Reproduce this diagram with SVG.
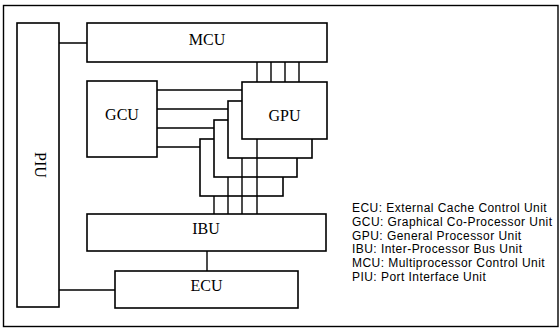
<svg xmlns="http://www.w3.org/2000/svg" width="560" height="329" viewBox="0 0 560 329">
<style>
.box{fill:#fff;stroke:#000;stroke-width:1.6}
.ln{fill:none;stroke:#000;stroke-width:1.4}
.lbl{font-family:"Liberation Serif","Times New Roman",serif;font-size:16px;text-anchor:middle;fill:#000}
.leg{font-family:"Liberation Sans",Arial,sans-serif;font-size:12px;letter-spacing:0.45px;fill:#000}
</style>
<rect x="0" y="0" width="560" height="329" fill="#fff"/>
<rect x="3.5" y="5.5" width="554.5" height="321" fill="none" stroke="#000" stroke-width="1.4"/>
<g id="connectors">
<path class="ln" d="M59 43H87 M59 290H115 M207 251V271"/>
<path class="ln" d="M157 90H242 M157 109H228 M157 128H214 M157 147H200"/>
<path class="ln" d="M257 62V82 M271 62V82 M285 62V82 M299 62V82"/>
</g>
<g id="PIU"><rect class="box" x="17" y="23" width="42" height="284"/><text class="lbl" transform="translate(35 165) rotate(90)">PIU</text></g>
<g id="MCU"><rect class="box" x="87" y="23" width="240" height="39"/><text class="lbl" x="207" y="45">MCU</text></g>
<g id="GCU"><rect class="box" x="87" y="81" width="70" height="76"/><text class="lbl" x="122" y="120">GCU</text></g>
<g id="GPU3"><rect class="box" x="200" y="139" width="83" height="57"/></g>
<g id="GPU2"><rect class="box" x="214" y="120" width="83" height="57"/></g>
<g id="GPU1"><rect class="box" x="228" y="101" width="84" height="57"/></g>
<g id="GPU"><rect class="box" x="242" y="82" width="85" height="57"/><text class="lbl" x="284.5" y="121">GPU</text></g>
<g id="connectors-down">
<path class="ln" d="M214 196V214 M228 177V214 M242 158V214 M257 139V214"/>
</g>
<g id="IBU"><rect class="box" x="87" y="214" width="239" height="37"/><text class="lbl" x="206" y="234">IBU</text></g>
<g id="ECU"><rect class="box" x="115" y="271" width="183" height="37"/><text class="lbl" x="206.5" y="291">ECU</text></g>
<g id="legend">
<text class="leg" x="352" y="212">ECU: External Cache Control Unit</text>
<text class="leg" x="352" y="225.8">GCU: Graphical Co-Processor Unit</text>
<text class="leg" x="352" y="239.6">GPU: General Processor Unit</text>
<text class="leg" x="352" y="253.4">IBU: Inter-Processor Bus Unit</text>
<text class="leg" x="352" y="267.2">MCU: Multiprocessor Control Unit</text>
<text class="leg" x="352" y="281">PIU: Port Interface Unit</text>
</g>
</svg>
